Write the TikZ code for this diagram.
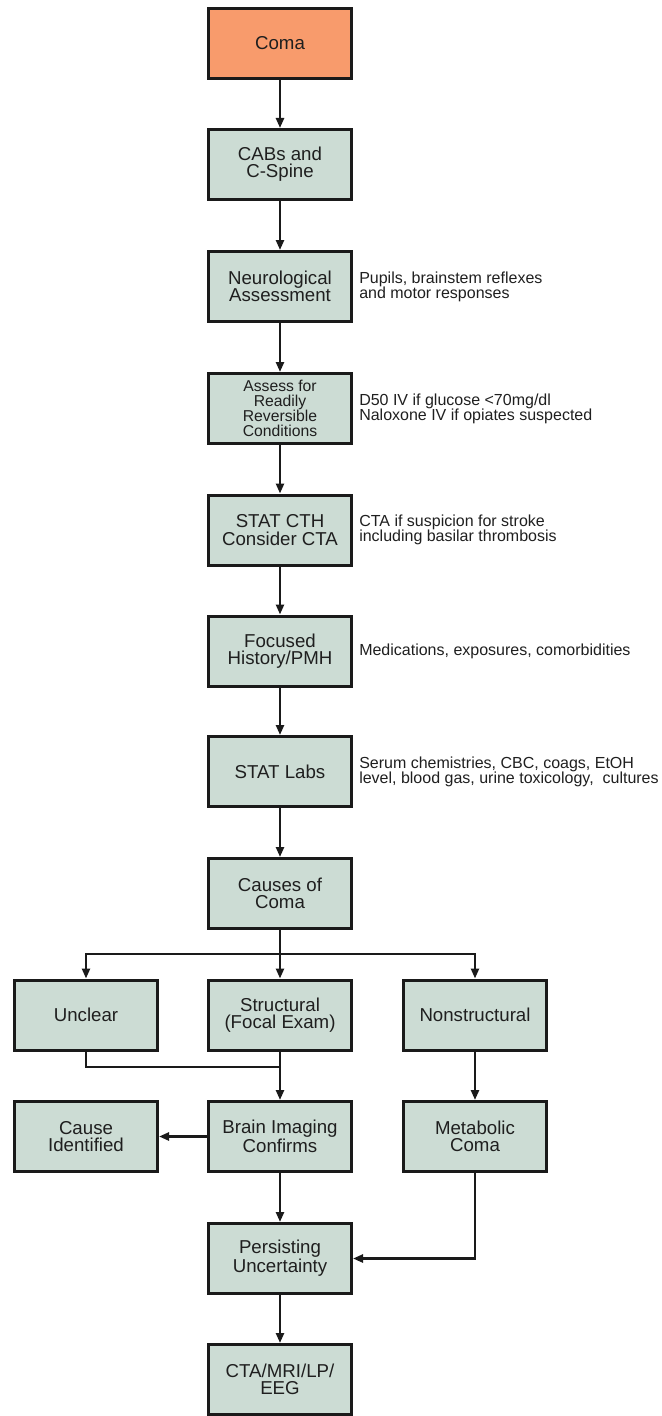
\documentclass[tikz,border=0pt]{standalone}
\usepackage{fontspec}
\setmainfont{Liberation Sans}
\usepackage{tikz}
\usetikzlibrary{arrows.meta,positioning}
\definecolor{cmfill}{HTML}{CCDCD4}
\definecolor{cmorange}{HTML}{F89B6C}
\definecolor{cmline}{HTML}{1A1A1A}
\definecolor{cmtext}{HTML}{1F1F1F}
\tikzset{
  stepbox/.style   = {draw=cmline, fill=cmfill, line width=2.25pt, align=center,
                      minimum width=107.25pt, minimum height=52.5pt, inner sep=2pt,
                      text=cmtext, font=\fontsize{14}{13}\selectfont},
  startbox/.style  = {stepbox, fill=cmorange},
  smallbox/.style  = {stepbox, font=\fontsize{11.8}{11.25}\selectfont},
  sidenote/.style  = {align=left, inner sep=0pt, text=cmtext,
                      font=\fontsize{12}{11.25}\selectfont},
  %
  link/.style      = {draw=cmline, line width=1.8pt},
  flow/.style      = {link, -{Triangle[length=7.5pt,width=6pt]}},
}

\begin{document}
\begin{tikzpicture}[x=0.75pt, y=-0.75pt]
  \useasboundingbox (0,0) rectangle (661,1416);

  % ---------- main column -------------------------------------------------
  \node[startbox] (coma)    at (280, 43.5)  {Coma};
  \node[stepbox]  (cabs)    at (280, 164.5) {CABs and\\ C-Spine};
  \node[stepbox]  (neuro)   at (280, 286.5) {Neurological\\ Assessment};
  \node[smallbox] (assess)  at (280, 408.5) {Assess for\\ Readily\\ Reversible\\ Conditions};
  \node[stepbox]  (cth)     at (280, 530)   {STAT CTH\\ Consider CTA};
  \node[stepbox]  (hist)    at (280, 651)   {Focused\\ History/PMH};
  \node[stepbox]  (labs)    at (280, 771.5) {STAT Labs};
  \node[stepbox]  (causes)  at (280, 893.5) {Causes of\\ Coma};

  % ---------- side notes --------------------------------------------------
  \node[sidenote, right=4.5pt of neuro]  (neuroN)
      {Pupils, brainstem reflexes\\ and motor responses};
  \node[sidenote, right=4.5pt of assess] (assessN)
      {D50 IV if glucose \textless70mg/dl\\ Naloxone IV if opiates suspected};
  \node[sidenote, right=4.5pt of cth]    (cthN)
      {CTA if suspicion for stroke\\ including basilar thrombosis};
  \node[sidenote, right=4.5pt of hist]   (histN)
      {Medications, exposures, comorbidities};
  \node[sidenote, right=4.5pt of labs]   (labsN)
      {Serum chemistries, CBC, coags, EtOH\\ level, blood gas, urine toxicology,\ \ cultures};

  % ---------- branches ----------------------------------------------------
  \node[stepbox] (unclear)   at (86, 1015)   {Unclear};
  \node[stepbox] (struct)    at (280, 1015)  {Structural\\ (Focal Exam)};
  \node[stepbox] (nonstruct) at (475, 1015)  {Nonstructural};
  \node[stepbox] (found)     at (86, 1136.5) {Cause\\ Identified};
  \node[stepbox] (brain)     at (280, 1136.5) {Brain Imaging\\ Confirms};
  \node[stepbox] (metab)     at (475, 1136.5) {Metabolic\\ Coma};
  \node[stepbox] (persist)   at (280, 1258.5) {Persisting\\ Uncertainty};
  \node[stepbox] (tests)     at (280, 1379.5) {CTA/MRI/LP/\\ EEG};

  \coordinate (split) at (280, 954);
  \coordinate (merge) at (280, 1067);

  % ---------- connectors --------------------------------------------------
  \draw[flow] (coma) -- (cabs);
  \draw[flow] (cabs) -- (neuro);
  \draw[flow] (neuro) -- (assess);
  \draw[flow] (assess) -- (cth);
  \draw[flow] (cth) -- (hist);
  \draw[flow] (hist) -- (labs);
  \draw[flow] (labs) -- (causes);

  \draw[link] (causes.south) -- (split);
  \draw[flow] (split) -| (unclear);
  \draw[flow] (split) -| (nonstruct);
  \draw[flow] (split) -- (struct);

  \draw[link] (unclear.south) |- (merge);
  \draw[flow] (struct) -- (brain);
  \draw[flow] (nonstruct) -- (metab);
  \draw[flow] (brain) -- (found);
  \draw[flow] (brain) -- (persist);
  \draw[flow] (metab.south) |- (persist);
  \draw[flow] (persist) -- (tests);

\end{tikzpicture}
\end{document}
